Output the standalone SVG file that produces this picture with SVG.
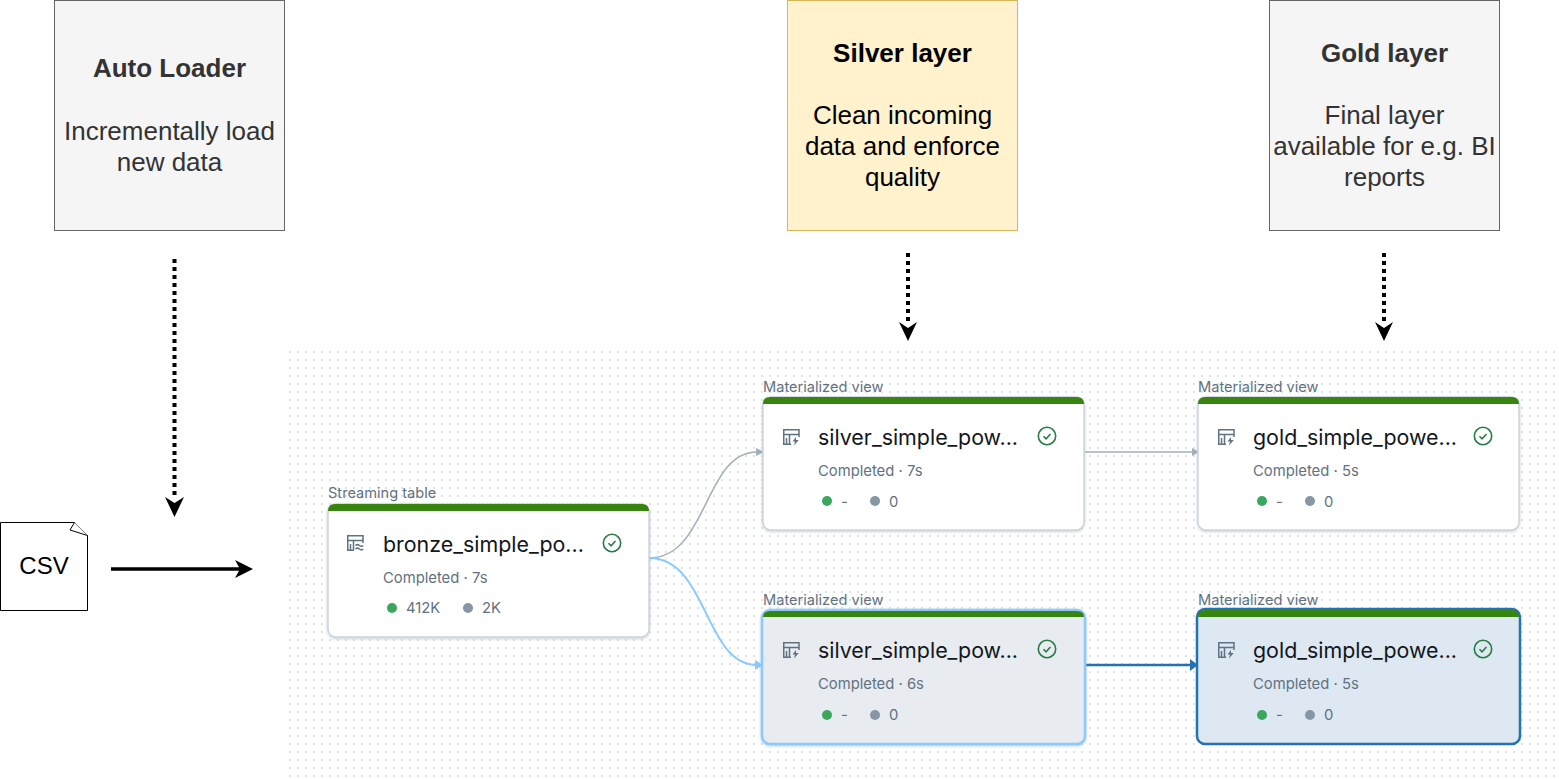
<svg xmlns="http://www.w3.org/2000/svg" xmlns:xlink="http://www.w3.org/1999/xlink" width="1559" height="779" viewBox="0 0 1559 779">
<style>
.box{stroke-width:1}
.h{font:bold 26px "Liberation Sans",Arial,sans-serif;text-anchor:middle}
.b{font:26px "Liberation Sans",Arial,sans-serif;text-anchor:middle}
.kind{font:14.600px Inter,"Liberation Sans",sans-serif;fill:#5f7281}
.name{font:21.400px Inter,"Liberation Sans",sans-serif;fill:#11171c}
.sub{font:14.800px Inter,"Liberation Sans",sans-serif;fill:#5f7281}
.card{fill:#fff;stroke:#cdd5dc;stroke-width:1.5}
.bar{fill:#37840f}
.ic{fill:none;stroke:#5f7281;stroke-width:1.5}
.ok{fill:none;stroke:#277c43;stroke-width:1.6}
.dash{fill:none;stroke:#000;stroke-width:4;stroke-dasharray:4 4}
</style>
<defs>
<pattern id="dots" width="8" height="8" patternUnits="userSpaceOnUse" x="288" y="350"><circle cx="2" cy="2" r="0.9" fill="#cfd5db"/></pattern>
<marker id="big" markerUnits="userSpaceOnUse" markerWidth="20" markerHeight="20" refX="18" refY="10" orient="auto"><path d="M0 1L18 10L0 19L5 10Z" fill="#000"/></marker>
<filter id="sh" x="-5%" y="-5%" width="110%" height="115%"><feDropShadow dx="0" dy="1" stdDeviation="1.500" flood-color="#8a9aa8" flood-opacity=".5"/></filter>
<g id="iconMv"><path class="ic" d="M16 8V0.750H0.750V15.250H8M0.750 5.500H16M6.500 5.500V15.250M3.500 9V15.250"/><path d="M13 8L9.500 12.500H12L11 16.500L15.800 11H13Z" fill="#5f7281"/></g>
<g id="iconSt"><path class="ic" d="M16 8V0.750H0.750V15.250H7M0.750 5.500H16M6.500 5.500V15.250M3.500 9V15.250"/><path class="ic" d="M8.500 10.500q1.900-1.700 3.900 0t3.900 0M8.500 14q1.900-1.700 3.900 0t3.900 0"/></g>
<g id="check"><circle class="ok" cx="0" cy="0" r="8.700"/><path class="ok" d="M-3.500 0.300L-1 2.800L3.500-2"/></g>
</defs>
<rect width="1559" height="779" fill="#fff"/>
<rect x="288" y="350" width="1271" height="429" fill="url(#dots)"/>

<g id="auto-loader"><rect class="box" x="54.500" y="0.500" width="230" height="230" fill="#f5f5f5" stroke="#666"/>
<text class="h" x="169.500" y="77" fill="#333">Auto Loader</text><text class="b" x="169.500" y="140" fill="#333">Incrementally load</text><text class="b" x="169.500" y="171" fill="#333">new data</text></g>
<g id="silver-layer"><rect class="box" x="787.500" y="0.500" width="230" height="230" fill="#fff2cc" stroke="#d6b656"/>
<text class="h" x="902.500" y="62" fill="#000">Silver layer</text><text class="b" x="902.500" y="124" fill="#000">Clean incoming</text><text class="b" x="902.500" y="155" fill="#000">data and enforce</text><text class="b" x="902.500" y="186" fill="#000">quality</text></g>
<g id="gold-layer"><rect class="box" x="1269.500" y="0.500" width="230" height="230" fill="#f5f5f5" stroke="#666"/>
<text class="h" x="1384.500" y="62" fill="#333">Gold layer</text><text class="b" x="1384.500" y="124" fill="#333">Final layer</text><text class="b" x="1384.500" y="155" fill="#333">available for e.g. BI</text><text class="b" x="1384.500" y="186" fill="#333">reports</text></g>

<g id="csv"><path d="M0.500 522.500H74.500L87.500 535.500V610.500H0.500Z" fill="#fff" stroke="#000"/><path d="M74.500 522.500L70 530L87.500 535.500" fill="#fff" stroke="#000"/>
<text x="44" y="574" font-family="Liberation Sans,Arial,sans-serif" font-size="24" text-anchor="middle" fill="#000">CSV</text></g>

<g id="connectors">
<path class="dash" d="M174.500 259V499"/><path d="M165 497L174.500 517L184 497L174.500 503Z"/>
<path class="dash" d="M908 253V322"/><path d="M899 322L908 341L917 322L908 328Z"/>
<path class="dash" d="M1384 253V322"/><path d="M1375 322L1384 341L1393 322L1384 328Z"/>
<path d="M111 569H248" fill="none" stroke="#000" stroke-width="3.500"/><path d="M235 560L253 569L235 578L240 569Z"/>
<path d="M649 558C708 558 704 452 757 452" fill="none" stroke="#a3aeb8" stroke-width="1.500"/><path d="M756 448L764 452L756 456Z" fill="#a3aeb8"/>
<path d="M649 558C708 558 704 665 757 665" fill="none" stroke="#8acaff" stroke-width="2"/><path d="M755 660L763 665L755 670Z" fill="#8acaff"/>
<path d="M1085 452H1193" fill="none" stroke="#a3aeb8" stroke-width="1.500"/><path d="M1192 448L1199 452L1192 456Z" fill="#a3aeb8"/>
<path d="M1086 665H1192" fill="none" stroke="#2272b4" stroke-width="2.500"/><path d="M1190 659L1198 665L1190 671Z" fill="#2272b4"/>
</g>

<g id="bronze"><text class="kind" x="328" y="498">Streaming table</text>
<rect class="card" x="328" y="504" width="321" height="133" rx="8" filter="url(#sh)"/><path class="bar" d="M328 511H649Q649 504 642 504H335Q328 504 328 511Z"/>
<use xlink:href="#iconSt" href="#iconSt" x="347" y="535"/><text class="name" x="383" y="552">bronze_simple_po...</text><use xlink:href="#check" href="#check" x="612" y="543"/>
<text class="sub" x="383" y="583">Completed · 7s</text><circle cx="392" cy="608" r="5" fill="#3ba65e"/><text class="sub" x="406" y="613">412K</text><circle cx="468" cy="608" r="5" fill="#8696a5"/><text class="sub" x="482" y="613">2K</text></g>

<g id="silver-top"><text class="kind" x="763" y="392">Materialized view</text>
<rect class="card" x="763" y="397" width="321" height="133" rx="8" filter="url(#sh)"/><path class="bar" d="M763 404H1084Q1084 397 1077 397H770Q763 397 763 404Z"/>
<use xlink:href="#iconMv" href="#iconMv" x="783" y="429"/><text class="name" x="818" y="445">silver_simple_pow...</text><use xlink:href="#check" href="#check" x="1047" y="436"/>
<text class="sub" x="818" y="476">Completed · 7s</text><circle cx="827" cy="501" r="5" fill="#3ba65e"/><text class="sub" x="841" y="507">-</text><circle cx="875" cy="501" r="5" fill="#8696a5"/><text class="sub" x="889" y="507">0</text></g>

<g id="gold-top"><text class="kind" x="1198" y="392">Materialized view</text>
<rect class="card" x="1198" y="397" width="321" height="133" rx="8" filter="url(#sh)"/><path class="bar" d="M1198 404H1519Q1519 397 1512 397H1205Q1198 397 1198 404Z"/>
<use xlink:href="#iconMv" href="#iconMv" x="1218" y="429"/><text class="name" x="1253" y="445">gold_simple_powe...</text><use xlink:href="#check" href="#check" x="1483" y="436"/>
<text class="sub" x="1253" y="476">Completed · 5s</text><circle cx="1262" cy="501" r="5" fill="#3ba65e"/><text class="sub" x="1276" y="507">-</text><circle cx="1310" cy="501" r="5" fill="#8696a5"/><text class="sub" x="1324" y="507">0</text></g>

<g id="silver-bottom"><text class="kind" x="763" y="605">Materialized view</text>
<rect x="762" y="610" width="323" height="134" rx="8" fill="#e8ebef" stroke="#8acaff" stroke-width="2.500" filter="url(#sh)"/><path class="bar" d="M763 617H1084Q1084 611 1077 611H770Q763 611 763 617Z"/>
<use xlink:href="#iconMv" href="#iconMv" x="783" y="642"/><text class="name" x="818" y="658">silver_simple_pow...</text><use xlink:href="#check" href="#check" x="1047" y="649"/>
<text class="sub" x="818" y="689">Completed · 6s</text><circle cx="827" cy="715" r="5" fill="#3ba65e"/><text class="sub" x="841" y="720">-</text><circle cx="875" cy="715" r="5" fill="#8696a5"/><text class="sub" x="889" y="720">0</text></g>

<g id="gold-bottom"><text class="kind" x="1198" y="605">Materialized view</text>
<rect x="1197" y="609" width="323" height="135" rx="8" fill="#dde8f2" stroke="#2272b4" stroke-width="2.500"/><path class="bar" d="M1198 617H1519Q1519 610 1512 610H1205Q1198 610 1198 617Z"/>
<use xlink:href="#iconMv" href="#iconMv" x="1218" y="642"/><text class="name" x="1253" y="658">gold_simple_powe...</text><use xlink:href="#check" href="#check" x="1483" y="649"/>
<text class="sub" x="1253" y="689">Completed · 5s</text><circle cx="1262" cy="715" r="5" fill="#3ba65e"/><text class="sub" x="1276" y="720">-</text><circle cx="1310" cy="715" r="5" fill="#8696a5"/><text class="sub" x="1324" y="720">0</text></g>
</svg>
